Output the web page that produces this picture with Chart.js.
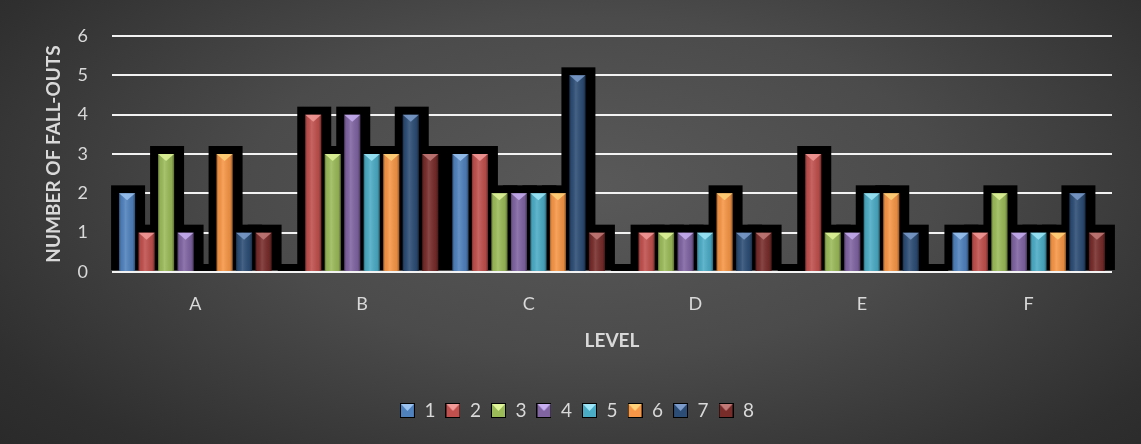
<!DOCTYPE html>
<html>
<head>
<meta charset="utf-8">
<script src="https://cdn.jsdelivr.net/npm/chart.js@4.4.1/dist/chart.umd.min.js"></script>
<style>
  html, body { margin: 0; padding: 0; background: #2a2a2a; }
  #wrap {
    position: relative; width: 1141px; height: 444px;
    background: radial-gradient(ellipse 75% 95% at 52% 42%, #595959 0%, #4b4b4b 40%, #2f2f2f 80%, #272727 100%);
  }
</style>
</head>
<body>
<div id="wrap"><canvas id="chart"></canvas></div>
<script>
(function () {
  'use strict';

  var levels = ['A', 'B', 'C', 'D', 'E', 'F'];
  var series1 = [2, 0, 3, 0, 0, 1];
  var series2 = [1, 4, 3, 1, 3, 1];
  var series3 = [3, 3, 2, 1, 1, 2];
  var series4 = [1, 4, 2, 1, 1, 1];
  var series5 = [0, 3, 2, 1, 2, 1];
  var series6 = [3, 3, 2, 2, 2, 1];
  var series7 = [1, 4, 5, 1, 1, 2];
  var series8 = [1, 3, 1, 1, 0, 1];
  var yTicks = [0, 1, 2, 3, 4, 5, 6];

  var names = ['1', '2', '3', '4', '5', '6', '7', '8'];
  var values = [series1, series2, series3, series4, series5, series6, series7, series8];
  var colors = ['#4f81bd', '#c0504d', '#9bbb59', '#8064a2', '#4bacc6', '#f79646', '#2c4d75', '#772c2a'];
  var tips = ['#9cc3f0', '#f29a98', '#e0f59a', '#c7aef0', '#9ee6f7', '#ffd27a', '#7d9ccb', '#c27a78'];

  var font = 'Lato, "Open Sans", sans-serif';
  var textColor = '#d9d9d9';

  // little legend swatches: coloured square, black edge, light tip
  function swatch(i) {
    var c = document.createElement('canvas');
    c.width = 15; c.height = 15;
    var g = c.getContext('2d');
    g.fillStyle = '#000';
    g.fillRect(0, 0, 15, 15);
    g.fillStyle = colors[i];
    g.fillRect(1, 1, 13, 13);
    g.fillStyle = tips[i];
    g.beginPath();
    g.moveTo(1, 1); g.lineTo(14, 1); g.lineTo(7.5, 8); g.closePath();
    g.fill();
    return c;
  }

  var datasets = values.map(function (v, i) {
    return {
      label: names[i],
      data: v,
      backgroundColor: colors[i],
      borderWidth: 0,
      pointStyle: swatch(i),
      categoryPercentage: 0.936,
      barPercentage: 0.82
    };
  });

  // black stepped "depth" behind the columns, then shading + tip on top
  var columns3d = {
    id: 'columns3d',
    afterLayout: function (chart) {
      // legend sits centred on the whole picture, not the plot
      chart.legend.left = 42;
    },
    beforeDatasetsDraw: function (chart) {
      var ctx = chart.ctx;
      ctx.save();
      ctx.fillStyle = '#000';
      chart.data.datasets.forEach(function (ds, di) {
        chart.getDatasetMeta(di).data.forEach(function (el) {
          var w = el.width;
          var top = el.y - 8;
          ctx.fillRect(el.x - w / 2 - 8, top, w + 18, el.base - 1 - top);
        });
      });
      ctx.restore();
    },
    afterDatasetsDraw: function (chart) {
      var ctx = chart.ctx;
      ctx.save();
      chart.data.datasets.forEach(function (ds, di) {
        chart.getDatasetMeta(di).data.forEach(function (el) {
          var h = el.base - el.y;
          if (h <= 0) return;
          var l = el.x - el.width / 2, r = el.x + el.width / 2;
          var g = ctx.createLinearGradient(l, 0, r, 0);
          g.addColorStop(0, 'rgba(0,0,0,0.35)');
          g.addColorStop(0.12, 'rgba(0,0,0,0.05)');
          g.addColorStop(0.4, 'rgba(255,255,255,0.12)');
          g.addColorStop(0.85, 'rgba(0,0,0,0.08)');
          g.addColorStop(1, 'rgba(0,0,0,0.4)');
          ctx.fillStyle = g;
          ctx.fillRect(l, el.y, el.width, h);
          ctx.fillStyle = tips[di];
          ctx.globalAlpha = 0.85;
          ctx.beginPath();
          ctx.moveTo(l, el.y);
          ctx.lineTo(r, el.y);
          ctx.lineTo(el.x, el.y + 7);
          ctx.closePath();
          ctx.fill();
          ctx.globalAlpha = 1;
        });
      });
      ctx.restore();
    }
  };

  new Chart(document.getElementById('chart'), {
    type: 'bar',
    data: { labels: levels, datasets: datasets },
    plugins: [columns3d],
    options: {
      responsive: true,
      maintainAspectRatio: false,
      animation: false,
      layout: { padding: { top: 36, right: 29, left: 0, bottom: 14 } },
      plugins: {
        tooltip: { enabled: false },
        legend: {
          position: 'bottom',
          labels: {
            usePointStyle: true,
            pointStyleWidth: 15,
            boxHeight: 15,
            padding: 10,
            color: textColor,
            font: { family: font, size: 19 }
          }
        }
      },
      scales: {
        x: {
          grid: { display: false, drawTicks: false },
          border: { display: false },
          ticks: { color: textColor, padding: 21, font: { family: font, size: 18 } },
          title: {
            display: true, text: 'LEVEL', color: textColor,
            padding: { top: 0, bottom: 39 },
            font: { family: font, size: 19, weight: 'bold' }
          },
          afterFit: function (scale) { scale.height = 119; }
        },
        y: {
          min: 0,
          max: 6,
          afterBuildTicks: function (scale) {
            scale.ticks = yTicks.map(function (v) { return { value: v }; });
          },
          grid: { color: '#f2f2f2', lineWidth: 2, drawTicks: false },
          border: { display: false },
          ticks: { color: textColor, padding: 24, font: { family: font, size: 18 } },
          title: {
            display: true, text: 'NUMBER OF FALL-OUTS', color: textColor,
            padding: { top: 42, bottom: 0 },
            font: { family: font, size: 19, weight: 'bold' }
          },
          afterFit: function (scale) { scale.width = 112; }
        }
      }
    }
  });
})();
</script>
</body>
</html>
